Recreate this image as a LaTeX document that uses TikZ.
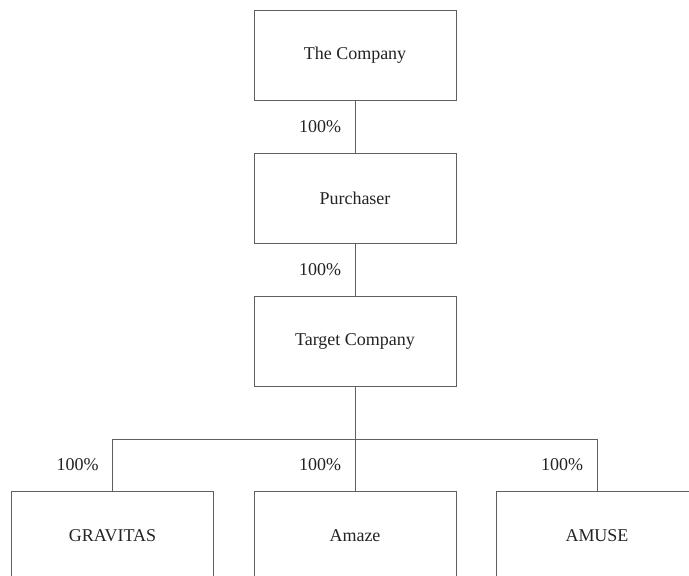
\documentclass[tikz,border=0pt]{standalone}
\usepackage{fontspec}
\setmainfont{Liberation Serif}
\definecolor{linegray}{RGB}{95, 95, 95}
\definecolor{textgray}{RGB}{35, 35, 35}
\usepackage{tikz}
\usetikzlibrary{positioning}

\begin{document}
\begin{tikzpicture}[font=\fontsize{12.8}{15}\selectfont, text=textgray,
    entity/.style={draw=linegray, line width=0.7pt, rectangle, minimum width=5.05cm, minimum height=2.25cm},
    link/.style={draw=linegray, line width=0.7pt},
    share/.style={left=0.22cm}]
\useasboundingbox (0,0) rectangle (17.225,-14.4);
\clip (0,0) rectangle (17.225,-14.4);
\node[entity] (company) at (8.875,-1.375) {The Company};
\node[entity] (purchaser) at (8.875,-4.95) {Purchaser};
\node[entity] (target) at (8.875,-8.525) {Target Company};
\node[entity] (gravitas) at (2.8125,-13.4) {GRAVITAS};
\node[entity] (amaze) at (8.875,-13.4) {Amaze};
\node[entity] (amuse) at (14.925,-13.4) {AMUSE};
\coordinate (bar) at (8.875,-10.975);
\draw[link] (company) -- node[share] (shareA) {100\%} (purchaser);
\draw[link] (purchaser) -- node[share] (shareB) {100\%} (target);
\draw[link] (target) -- (bar);
\draw[link] (gravitas) |- node[share, pos=0.25] (shareC) {100\%} (bar);
\draw[link] (bar) -- node[share] (shareD) {100\%} (amaze);
\draw[link] (bar) -| node[share, pos=0.75] (shareE) {100\%} (amuse);
\end{tikzpicture}
\end{document}
